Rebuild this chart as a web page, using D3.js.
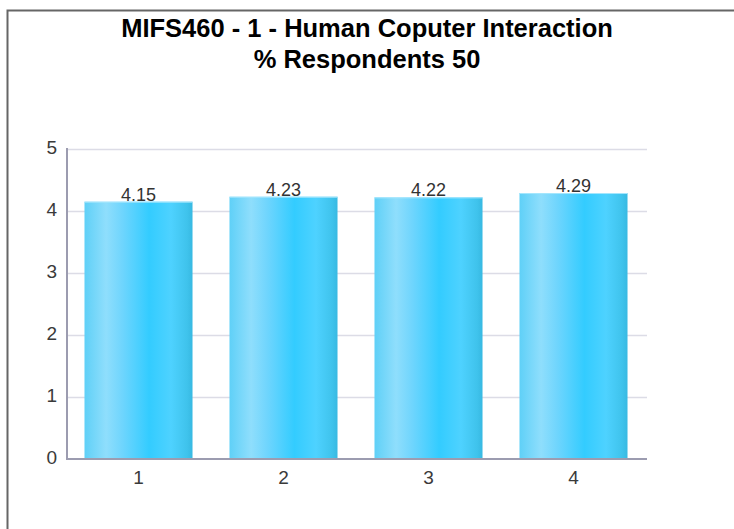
<!DOCTYPE html>
<html>
<head>
<meta charset="utf-8">
<script src="https://cdn.jsdelivr.net/npm/d3@7"></script>
<style>
  html, body { margin: 0; padding: 0; background: #fff; }
  svg { display: block; font-family: "Liberation Sans", Arial, sans-serif; }
</style>
</head>
<body>
<svg id="chart" width="734" height="529"></svg>
<script>
const titleLines = ["MIFS460 - 1 - Human Coputer Interaction", "% Respondents 50"];
const categories = ["1", "2", "3", "4"];
const values = [4.15, 4.23, 4.22, 4.29];
const valueLabels = ["4.15", "4.23", "4.22", "4.29"];
const yTicks = [0, 1, 2, 3, 4, 5];

const svg = d3.select("#chart");
const plot = { left: 67, right: 647, top: 149, bottom: 459 };

// frame
svg.append("path")
  .attr("d", "M7.5,529 L7.5,10.5 L734,10.5")
  .attr("fill", "none").attr("stroke", "#666").attr("stroke-width", 2);

// title
svg.append("g").selectAll("text").data(titleLines).join("text")
  .attr("x", 367).attr("y", (d, i) => 37 + i * 31)
  .attr("text-anchor", "middle")
  .attr("font-size", 25.5).attr("font-weight", "bold").attr("fill", "#000")
  .text(d => d);

const y = d3.scaleLinear().domain([0, 5]).range([plot.bottom, plot.top]);
const x = d3.scaleBand().domain(categories).range([plot.left - 1, plot.right - 1])
  .paddingInner(0.255).paddingOuter(0.1275);

// gradient
const defs = svg.append("defs");
const grad = defs.append("linearGradient").attr("id", "barGrad")
  .attr("x1", "0%").attr("x2", "100%").attr("y1", "0%").attr("y2", "0%");
[[0, "#5fd0f7"], [0.2, "#8fdefc"], [0.35, "#6fd5fd"], [0.6, "#33ccff"], [0.8, "#4ed2ff"], [0.95, "#3fc3ec"], [1, "#37b9e2"]]
  .forEach(([o, c]) => grad.append("stop").attr("offset", o).attr("stop-color", c));

// gridlines
svg.append("g").selectAll("line").data(yTicks.filter(t => t > 0)).join("line")
  .attr("x1", plot.left).attr("x2", plot.right)
  .attr("y1", d => Math.round(y(d)) + 0.5).attr("y2", d => Math.round(y(d)) + 0.5)
  .attr("stroke", "#dcdce6").attr("stroke-width", 1.5);

// bars
svg.append("g").selectAll("rect").data(values).join("rect")
  .attr("x", (d, i) => x(categories[i]))
  .attr("width", x.bandwidth())
  .attr("y", d => y(d))
  .attr("height", d => y(0) - y(d))
  .attr("fill", "url(#barGrad)");
// light top edge
svg.append("g").selectAll("line").data(values).join("line")
  .attr("x1", (d, i) => x(categories[i])).attr("x2", (d, i) => x(categories[i]) + x.bandwidth())
  .attr("y1", d => y(d) + 0.5).attr("y2", d => y(d) + 0.5)
  .attr("stroke", "#a5e6fd").attr("stroke-width", 1);

// value labels
svg.append("g").selectAll("text").data(values).join("text")
  .attr("x", (d, i) => x(categories[i]) + x.bandwidth() / 2)
  .attr("y", d => y(d) - 1)
  .attr("text-anchor", "middle").attr("font-size", 18).attr("fill", "#333")
  .text((d, i) => valueLabels[i]);

// axes lines
svg.append("line").attr("x1", plot.left).attr("x2", plot.left)
  .attr("y1", plot.top - 1).attr("y2", plot.bottom + 1)
  .attr("stroke", "#9c9cb0").attr("stroke-width", 2);
svg.append("line").attr("x1", plot.left - 1).attr("x2", plot.right)
  .attr("y1", plot.bottom).attr("y2", plot.bottom)
  .attr("stroke", "#9c9cb0").attr("stroke-width", 2);

// y tick labels
svg.append("g").selectAll("text").data(yTicks).join("text")
  .attr("x", 57).attr("y", d => y(d) + 5)
  .attr("text-anchor", "end").attr("font-size", 19).attr("fill", "#3a3a3a")
  .text(d => d);

// x tick labels
svg.append("g").selectAll("text").data(categories).join("text")
  .attr("x", d => x(d) + x.bandwidth() / 2)
  .attr("y", 484)
  .attr("text-anchor", "middle").attr("font-size", 19).attr("fill", "#3a3a3a")
  .text(d => d);
</script>
</body>
</html>
